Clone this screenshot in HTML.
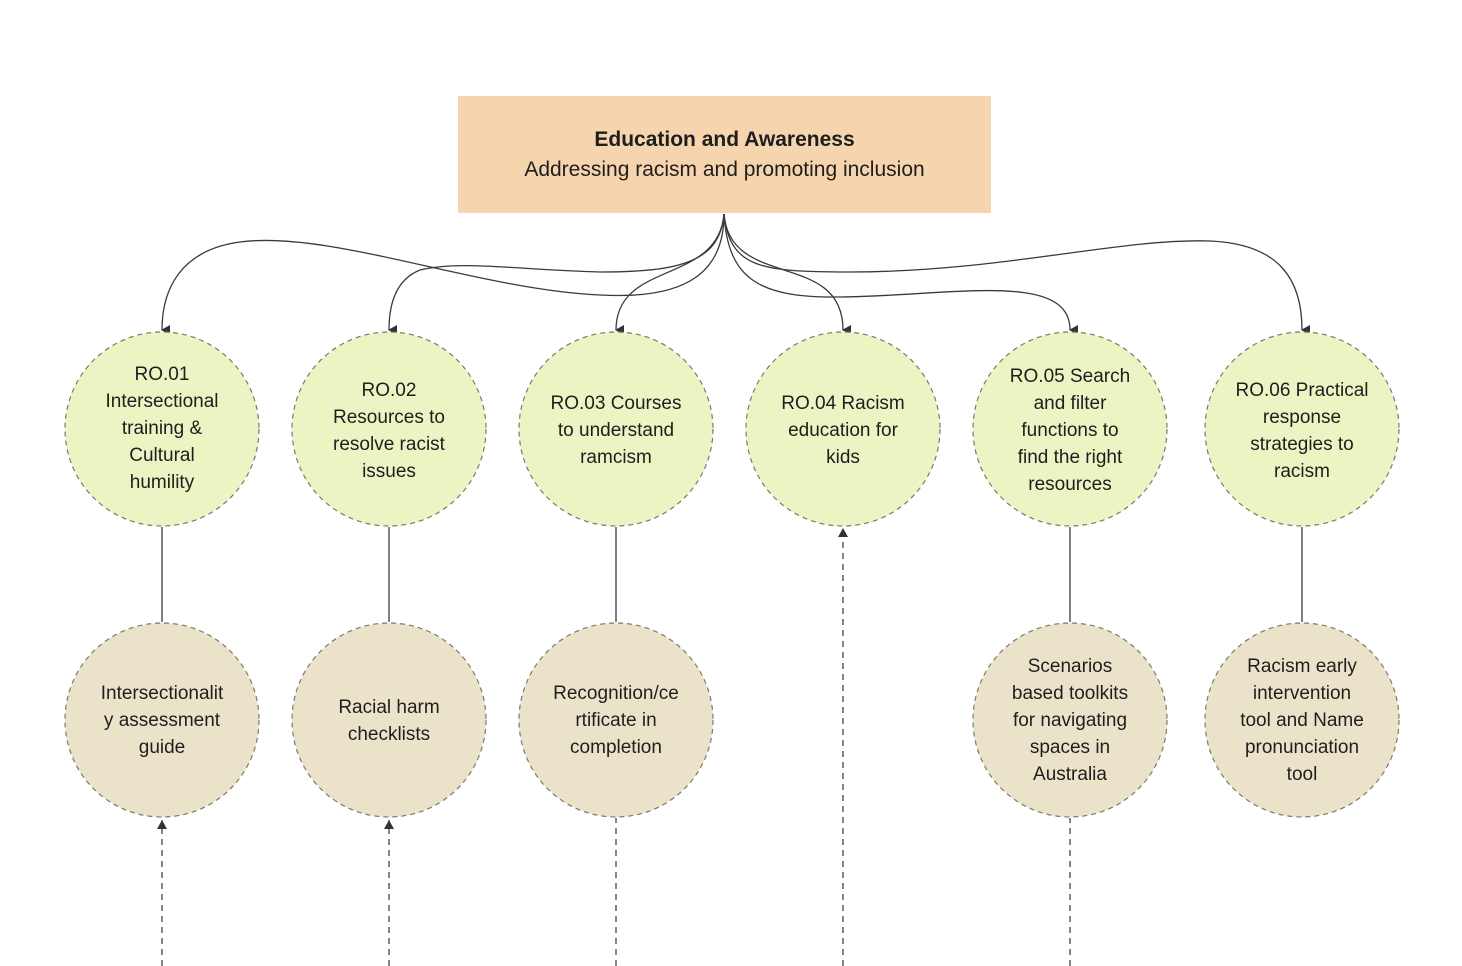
<!DOCTYPE html>
<html><head><meta charset="utf-8"><style>
html,body{margin:0;padding:0;background:#fff;}
body{width:1462px;height:966px;position:relative;overflow:hidden;font-family:"Liberation Sans",sans-serif;}
.t{position:absolute;text-align:center;color:#1e1e1e;font-size:19px;line-height:27px;}
</style></head><body>
<svg width="1462" height="966" style="position:absolute;left:0;top:0">
<defs><marker id="a" markerWidth="10" markerHeight="10" refX="5" refY="8" orient="auto" markerUnits="userSpaceOnUse" viewBox="0 0 10 10">
<path d="M0,0 L5,9 L10,0 Z" fill="#333" transform="rotate(0)"/></marker>
<marker id="u" markerWidth="10" markerHeight="10" refX="5" refY="1" markerUnits="userSpaceOnUse" viewBox="0 0 10 10"><path d="M0,10 L5,1 L10,10 Z" fill="#333"/></marker></defs>
<rect x="458" y="96" width="533" height="117" fill="#f6d4ae"/>
<g fill="none" stroke="#3a3a3a" stroke-width="1.3">
<path d="M724,214 C724,270 690,300 600,295 C480,290 330,230 240,242 C180,250 162,290 162,330" marker-end="url(#a)"/>
<path d="M724,214 C720,262 680,272 600,272 C520,270 460,260 420,270 C395,280 389,305 389,330" marker-end="url(#a)"/>
<path d="M724,214 C718,285 616,260 616,330" marker-end="url(#a)"/>
<path d="M724,214 C730,290 843,250 843,330" marker-end="url(#a)"/>
<path d="M724,214 C728,280 760,298 840,297 C950,296 1070,270 1070,330" marker-end="url(#a)"/>
<path d="M724,214 C730,268 760,272 850,272 C1000,272 1120,238 1210,241 C1280,244 1302,280 1302,330" marker-end="url(#a)"/>
<line x1="162" y1="527" x2="162" y2="622"/><line x1="389" y1="527" x2="389" y2="622"/>
<line x1="616" y1="527" x2="616" y2="622"/><line x1="1070" y1="527" x2="1070" y2="622"/><line x1="1302" y1="527" x2="1302" y2="622"/>
</g>
<g fill="none" stroke="#444" stroke-width="1.3" stroke-dasharray="6,5">
<line x1="162" y1="966" x2="162" y2="820" marker-end="url(#u)"/>
<line x1="389" y1="966" x2="389" y2="820" marker-end="url(#u)"/>
<line x1="616" y1="966" x2="616" y2="818"/>
<line x1="843" y1="966" x2="843" y2="528" marker-end="url(#u)"/>
<line x1="1070" y1="966" x2="1070" y2="818"/>
</g>
<g stroke="#7a7a6a" stroke-width="1.2" stroke-dasharray="5,4">
<g fill="#ecf4c4">
<circle cx="162" cy="429" r="97"/><circle cx="389" cy="429" r="97"/><circle cx="616" cy="429" r="97"/>
<circle cx="843" cy="429" r="97"/><circle cx="1070" cy="429" r="97"/><circle cx="1302" cy="429" r="97"/>
</g>
<g fill="#ebe3c9">
<circle cx="162" cy="720" r="97"/><circle cx="389" cy="720" r="97"/><circle cx="616" cy="720" r="97"/>
<circle cx="1070" cy="720" r="97"/><circle cx="1302" cy="720" r="97"/>
</g></g>
</svg>
<div class="t" style="left:458px;top:125px;width:533px;font-size:21px;line-height:30px"><b>Education and Awareness</b><br>Addressing racism and promoting inclusion</div>
<div class="t" style="left:82px;top:361px;width:160px">RO.01<br>Intersectional<br>training &amp;<br>Cultural<br>humility</div>
<div class="t" style="left:309px;top:377px;width:160px">RO.02<br>Resources to<br>resolve racist<br>issues</div>
<div class="t" style="left:536px;top:390px;width:160px">RO.03 Courses<br>to understand<br>ramcism</div>
<div class="t" style="left:763px;top:390px;width:160px">RO.04 Racism<br>education for<br>kids</div>
<div class="t" style="left:990px;top:363px;width:160px">RO.05 Search<br>and filter<br>functions to<br>find the right<br>resources</div>
<div class="t" style="left:1222px;top:377px;width:160px">RO.06 Practical<br>response<br>strategies to<br>racism</div>
<div class="t" style="left:82px;top:680px;width:160px">Intersectionalit<br>y assessment<br>guide</div>
<div class="t" style="left:309px;top:694px;width:160px">Racial harm<br>checklists</div>
<div class="t" style="left:536px;top:680px;width:160px">Recognition/ce<br>rtificate in<br>completion</div>
<div class="t" style="left:990px;top:653px;width:160px">Scenarios<br>based toolkits<br>for navigating<br>spaces in<br>Australia</div>
<div class="t" style="left:1222px;top:653px;width:160px">Racism early<br>intervention<br>tool and Name<br>pronunciation<br>tool</div>
</body></html>
